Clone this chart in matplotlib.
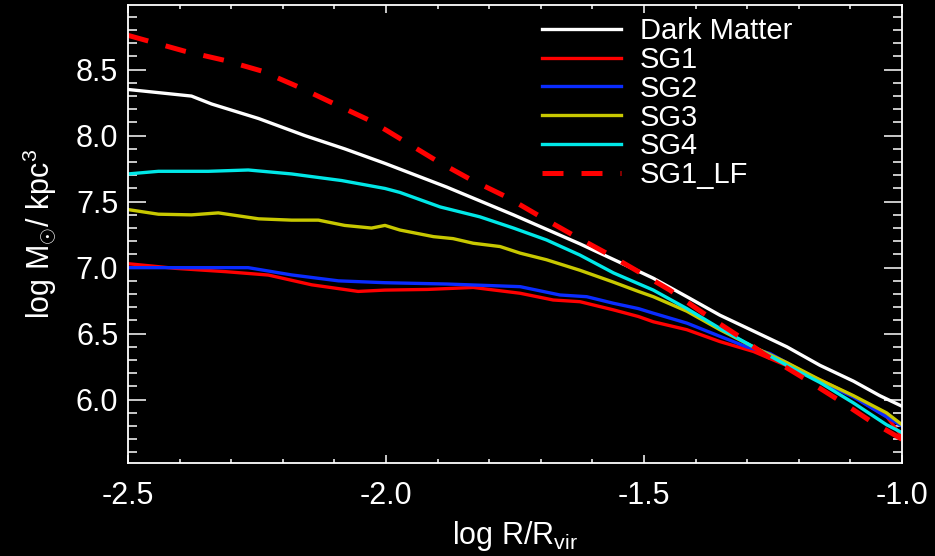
import matplotlib
matplotlib.use("Agg")
import matplotlib.pyplot as plt
from matplotlib.ticker import MultipleLocator

plt.rcParams['font.family'] = ['Liberation Sans', 'DejaVu Sans']
plt.rcParams['mathtext.fontset'] = 'custom'
plt.rcParams['mathtext.rm'] = 'Liberation Sans'
plt.rcParams['mathtext.it'] = 'Liberation Sans'

# Density profiles: log rho vs log R/Rvir
dm_x = [-2.50, -2.377, -2.338, -2.247, -2.157, -2.08, -2.002, -1.882, -1.753, -1.624,
        -1.547, -1.482, -1.417, -1.353, -1.288, -1.223, -1.159, -1.094, -1.043, -1.0]
dm_y = [8.35, 8.30, 8.24, 8.13, 8.00, 7.90, 7.79, 7.61, 7.40, 7.18,
        7.04, 6.92, 6.78, 6.64, 6.52, 6.40, 6.26, 6.14, 6.03, 5.95]

sg1_x = [-2.5, -2.409, -2.312, -2.228, -2.144, -2.054, -2.002, -1.92, -1.831, -1.74,
         -1.676, -1.624, -1.559, -1.511, -1.482, -1.417, -1.353, -1.288, -1.243, -1.204,
         -1.159, -1.094, -1.03, -1.0]
sg1_y = [7.03, 6.995, 6.97, 6.944, 6.87, 6.82, 6.83, 6.835, 6.85, 6.806,
         6.755, 6.742, 6.68, 6.63, 6.59, 6.53, 6.44, 6.365, 6.29, 6.226,
         6.15, 6.025, 5.874, 5.72]

sg2_x = [-2.5, -2.409, -2.267, -2.183, -2.092, -2.002, -1.882, -1.74, -1.663, -1.611,
         -1.559, -1.511, -1.482, -1.417, -1.353, -1.301, -1.256, -1.159, -1.094, -1.043, -1.0]
sg2_y = [7.0, 7.0, 7.0, 6.945, 6.90, 6.886, 6.876, 6.856, 6.793, 6.78,
         6.73, 6.69, 6.655, 6.58, 6.48, 6.40, 6.35, 6.14, 6.02, 5.90, 5.80]

sg3_x = [-2.5, -2.441, -2.377, -2.325, -2.247, -2.183, -2.131, -2.08, -2.028, -2.002,
         -1.973, -1.908, -1.87, -1.831, -1.779, -1.74, -1.689, -1.624, -1.559, -1.511,
         -1.482, -1.417, -1.353, -1.288, -1.223, -1.159, -1.094, -1.03, -1.0]
sg3_y = [7.44, 7.405, 7.40, 7.415, 7.37, 7.36, 7.36, 7.32, 7.30, 7.32,
         7.285, 7.235, 7.22, 7.185, 7.16, 7.11, 7.06, 6.98, 6.89, 6.82,
         6.78, 6.67, 6.53, 6.40, 6.28, 6.15, 6.03, 5.90, 5.81]

sg4_x = [-2.5, -2.441, -2.344, -2.267, -2.183, -2.086, -2.002, -1.973, -1.895, -1.818,
         -1.753, -1.689, -1.624, -1.559, -1.482, -1.417, -1.353, -1.288, -1.223, -1.159,
         -1.094, -1.03, -1.0]
sg4_y = [7.71, 7.73, 7.73, 7.74, 7.71, 7.66, 7.60, 7.57, 7.46, 7.385,
         7.30, 7.21, 7.095, 6.96, 6.83, 6.69, 6.54, 6.40, 6.26, 6.13,
         5.975, 5.81, 5.75]

lf_x = [-2.5, -2.39, -2.312, -2.241, -2.17, -2.105, -2.034, -1.999, -1.902, -1.837,
        -1.766, -1.70, -1.637, -1.572, -1.511, -1.45, -1.385, -1.32, -1.269, -1.185,
        -1.12, -1.062, -1.0]
lf_y = [8.76, 8.64, 8.57, 8.49, 8.37, 8.25, 8.12, 8.04, 7.81, 7.67,
        7.535, 7.385, 7.246, 7.108, 6.97, 6.83, 6.655, 6.49, 6.35, 6.15,
        5.99, 5.84, 5.70]

labels = ["Dark Matter", "SG1", "SG2", "SG3", "SG4", "SG1_LF"]
colors = ["#ffffff", "#ff0000", "#0a2cff", "#c8c800", "#00e8e8", "#ff0000"]

x_ticks = [-2.5, -2.0, -1.5, -1.0]
x_ticklabels = ["-2.5", "-2.0", "-1.5", "-1.0"]
y_ticks = [6.0, 6.5, 7.0, 7.5, 8.0, 8.5]
y_ticklabels = ["6.0", "6.5", "7.0", "7.5", "8.0", "8.5"]

fig = plt.figure(figsize=(9.35, 5.56), dpi=100, facecolor="black")
ax = fig.add_axes([128 / 935, 1 - 463 / 556, (902 - 128) / 935, (463 - 5) / 556])
ax.set_facecolor("black")

series = [(dm_x, dm_y), (sg1_x, sg1_y), (sg2_x, sg2_y), (sg3_x, sg3_y), (sg4_x, sg4_y)]
for (xs, ys), lab, col in zip(series, labels[:5], colors[:5]):
    ax.plot(xs, ys, color=col, lw=2.4, label=lab, solid_joinstyle="round")
ax.plot(lf_x, lf_y, color=colors[5], lw=3.6, linestyle=(0, (4.2, 3.6)), label=labels[5])

ax.set_xlim(-2.5, -1.0)
ax.set_ylim(5.52, 8.99)
ax.set_xticks(x_ticks)
ax.set_xticklabels(x_ticklabels)
ax.set_yticks(y_ticks)
ax.set_yticklabels(y_ticklabels)
ax.xaxis.set_minor_locator(MultipleLocator(0.1))
ax.yaxis.set_minor_locator(MultipleLocator(0.1))

for s in ax.spines.values():
    s.set_color("white")
    s.set_linewidth(1.3)

ax.tick_params(axis="both", which="both", direction="in", colors="white",
               top=True, right=True, width=1.1, labelsize=22)
ax.tick_params(axis="x", which="major", length=6, pad=13)
ax.tick_params(axis="x", which="minor", length=3)
ax.tick_params(axis="y", which="major", length=13, pad=7)
ax.tick_params(axis="y", which="minor", length=6.5)

ax.set_xlabel(r"log R/R$_{\mathrm{vir}}$", color="white", fontsize=22, labelpad=6)
ax.set_ylabel(r"log M$_{\odot}$/ kpc$^{3}$", color="white", fontsize=22, labelpad=12)

leg = ax.legend(loc="upper left", bbox_to_anchor=(0.535, 0.974), frameon=False,
                fontsize=21, handlelength=2.7, handletextpad=0.65,
                labelspacing=0.03, borderpad=0, borderaxespad=0)
for t in leg.get_texts():
    t.set_color("white")

fig.savefig("out.png", dpi=100, facecolor="black")
